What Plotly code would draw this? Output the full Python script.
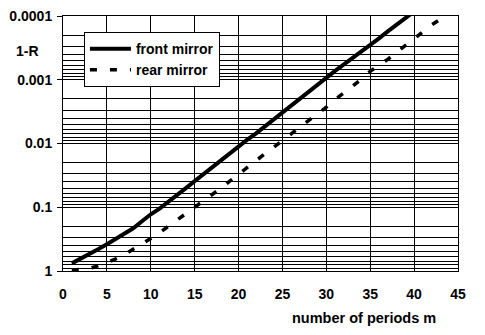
import plotly.graph_objects as go

# ---- data ----
periods_front = list(range(1, 41))
front_mirror = [0.759, 0.646, 0.550, 0.457, 0.380, 0.316, 0.263, 0.214, 0.166, 0.129,
                0.105, 0.0832, 0.0646, 0.0501, 0.0389, 0.0302, 0.0234, 0.0182, 0.0141, 0.0112,
                0.00871, 0.00692, 0.00537, 0.00427, 0.00331, 0.00257, 0.00200, 0.00151, 0.00117, 0.000912,
                0.000724, 0.000575, 0.000457, 0.000363, 0.000288, 0.000224, 0.000174, 0.000138, 0.000107, 0.0000851]

periods_rear = list(range(1, 44))
rear_mirror = [0.977, 0.955, 0.912, 0.832, 0.741, 0.646, 0.550, 0.457, 0.380, 0.309,
               0.251, 0.200, 0.158, 0.123, 0.0977, 0.0794, 0.0631, 0.0501, 0.0389, 0.0302,
               0.0234, 0.0182, 0.0145, 0.0115, 0.00912, 0.00708, 0.00550, 0.00437, 0.00347, 0.00269,
               0.00204, 0.00162, 0.00126, 0.000977, 0.000741, 0.000589, 0.000479, 0.000372, 0.000288, 0.000229,
               0.000174, 0.000138, 0.000112]

y_tick_vals = [1, 0.1, 0.01, 0.001, 0.0001]
y_tick_text = ["1", "0.1", "0.01", "0.001", "0.0001"]
x_tick_vals = [0, 5, 10, 15, 20, 25, 30, 35, 40, 45]

# minor grid positions (2..9 within each decade)
minor_vals = [m * 10 ** e for e in range(-4, 0) for m in range(2, 10)]

FONT = "Arial, Liberation Sans, sans-serif"

fig = go.Figure()
fig.add_trace(go.Scatter(
    x=periods_front, y=front_mirror, mode="lines", name="front mirror",
    legendgroup="a",
    line=dict(color="black", width=4), cliponaxis=True))
fig.add_trace(go.Scatter(
    x=periods_rear, y=rear_mirror, mode="lines", name="rear mirror",
    legendgroup="b",
    line=dict(color="black", width=3.5, dash="7px,13px"), cliponaxis=True))

# page body has an 8px default margin, so the figure is shrunk by that amount
fig.update_layout(
    width=477, height=327,
    margin=dict(l=55, r=27, t=8, b=64, autoexpand=False),
    paper_bgcolor="white", plot_bgcolor="white",
    font=dict(family=FONT, color="black", size=14, weight="bold"),
    showlegend=True,
    legend=dict(
        x=0.053, y=0.937, xanchor="left", yanchor="top",
        bgcolor="white", bordercolor="black", borderwidth=1,
        font=dict(family=FONT, size=14, color="black", weight="bold"),
        traceorder="grouped", tracegroupgap=0, itemwidth=41,
    ),
    xaxis=dict(
        range=[0, 45], tickvals=x_tick_vals, automargin=False,
        showgrid=True, gridcolor="black", gridwidth=1,
        showline=True, linecolor="black", linewidth=1, mirror=True,
        ticks="", ticklabelstandoff=10, zeroline=False,
        ticklabeloverflow="allow",
        tickfont=dict(family=FONT, size=14, color="black", weight="bold"),
    ),
    yaxis=dict(
        type="log", range=[0, -4], automargin=False,
        tickvals=y_tick_vals, ticktext=y_tick_text,
        showgrid=True, gridcolor="black", gridwidth=1,
        showline=True, linecolor="black", linewidth=1, mirror=True,
        ticks="outside", ticklen=5, tickcolor="black", tickwidth=1,
        ticklabelstandoff=2, zeroline=False,
        ticklabeloverflow="allow",
        tickfont=dict(family=FONT, size=14, color="black", weight="bold"),
        minor=dict(tickvals=minor_vals, showgrid=True, gridcolor="black", gridwidth=1, ticks=""),
    ),
    annotations=[
        dict(text="1-R", xref="paper", yref="paper", x=-0.0899, y=0.863,
             xanchor="center", yanchor="middle", showarrow=False,
             font=dict(family=FONT, size=14, color="black", weight="bold")),
        dict(text="number of periods m", xref="paper", yref="paper", x=0.762, y=-0.184,
             xanchor="center", yanchor="middle", showarrow=False,
             font=dict(family=FONT, size=14.5, color="black", weight="bold")),
    ],
)

fig.write_html("out.html")
